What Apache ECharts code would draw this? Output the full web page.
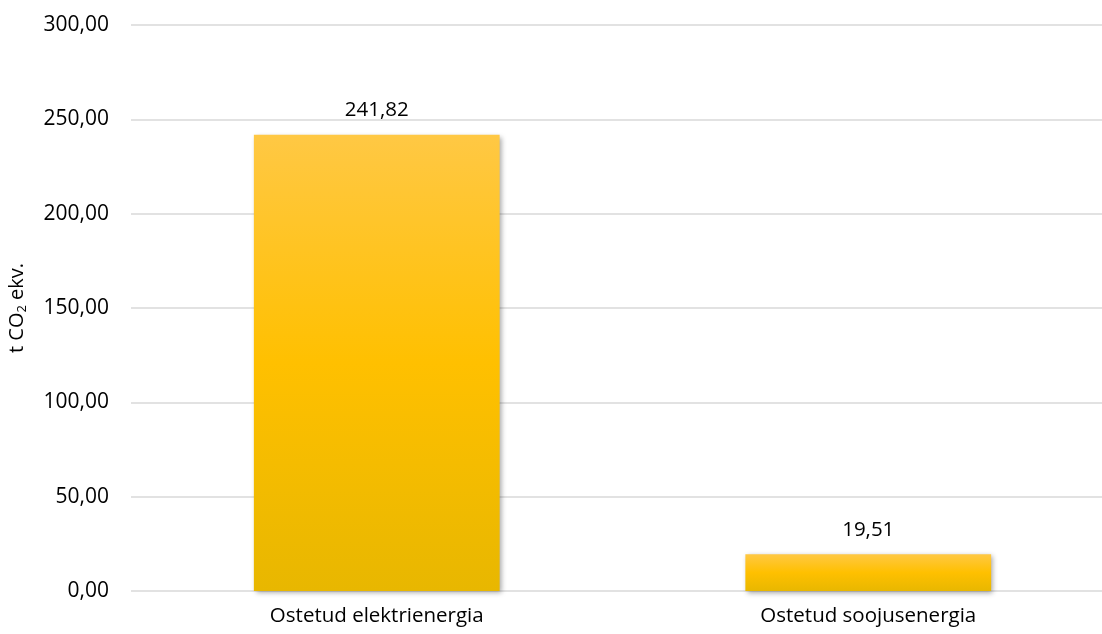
<!DOCTYPE html>
<html><head><meta charset="utf-8">
<script src="https://cdn.jsdelivr.net/npm/echarts@6/dist/echarts.min.js"></script>
<style>html,body{margin:0;padding:0;background:#fff}#c{width:1102px;height:634px}</style>
</head><body><div id="c"></div>
<script>
const categories = ['Ostetud elektrienergia', 'Ostetud soojusenergia'];
const values = [241.82, 19.51];
const yTicks = [0, 50, 100, 150, 200, 250, 300];

const fmt = v => v.toFixed(2).replace('.', ',');
const FONT = 'Open Sans';
const chart = echarts.init(document.getElementById('c'), null, {renderer: 'canvas'});
chart.setOption({
  animation: false,
  backgroundColor: '#fff',
  grid: {left: 131, top: 25, width: 983, bottom: 43, containLabel: false, outerBoundsMode: 'none'},
  xAxis: {
    type: 'category', data: categories,
    axisLine: {show: false}, axisTick: {show: false},
    axisLabel: {color: '#000', fontFamily: FONT, fontSize: 20.5, margin: 15}
  },
  yAxis: {
    type: 'value', min: yTicks[0], max: yTicks[yTicks.length - 1], interval: 50,
    axisLine: {show: false}, axisTick: {show: false},
    splitLine: {lineStyle: {color: '#d9d9d9', width: 1.5}},
    axisLabel: {color: '#000', fontFamily: FONT, fontSize: 21, margin: 22, formatter: v => fmt(v)},
    name: '{a|t CO}{s|2}{a| ekv.}',
    nameLocation: 'middle', nameGap: 102, nameRotate: 90,
    nameTextStyle: {
      rich: {
        a: {fontFamily: FONT, fontSize: 20, color: '#000'},
        s: {fontFamily: FONT, fontSize: 13, color: '#000', verticalAlign: 'bottom', padding: [10, 0, 0, 0]}
      }
    }
  },
  series: [{
    type: 'bar', data: values, barWidth: '50%',
    itemStyle: {
      color: new echarts.graphic.LinearGradient(0, 0, 0, 1, [
        {offset: 0, color: '#ffc844'},
        {offset: 0.5, color: '#ffc000'},
        {offset: 1, color: '#e8b700'}
      ]),
      shadowColor: 'rgba(0,0,0,0.35)', shadowBlur: 5, shadowOffsetX: 2, shadowOffsetY: 2
    },
    label: {show: true, position: 'top', distance: 14, color: '#000', fontFamily: FONT, fontSize: 20.5,
      formatter: p => fmt(p.value)}
  }]
});
</script></body></html>
